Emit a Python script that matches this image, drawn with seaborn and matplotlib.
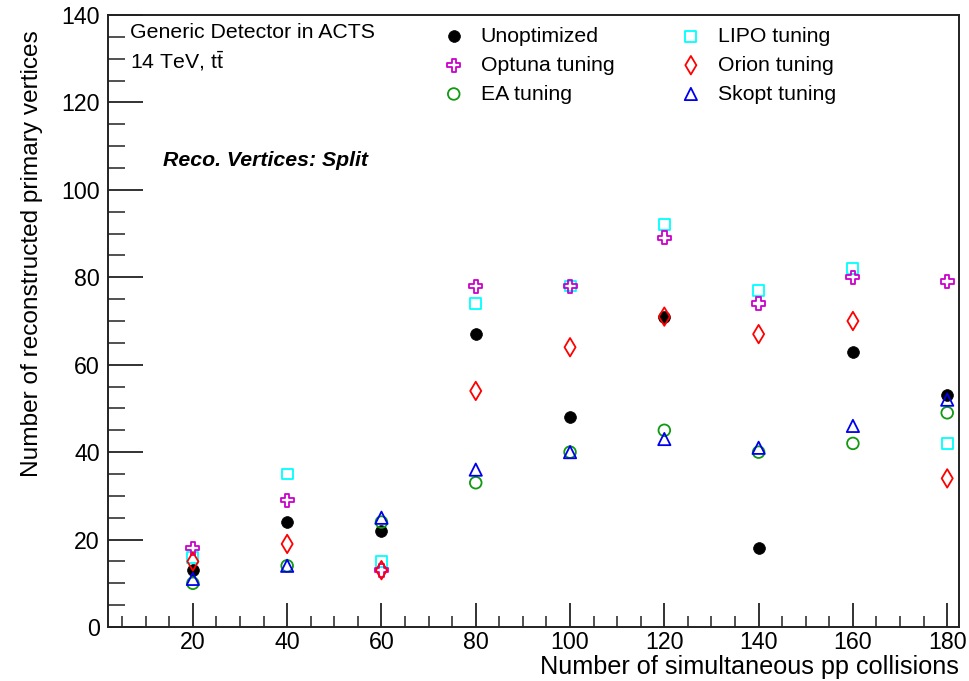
import matplotlib
matplotlib.use("Agg")
import matplotlib.pyplot as plt
import seaborn as sns
import pandas as pd

sns.set_style("white")
plt.rcParams['font.family'] = ['Liberation Sans', 'DejaVu Sans']
plt.rcParams['mathtext.fontset'] = 'custom'
plt.rcParams['mathtext.rm'] = 'Liberation Sans'
plt.rcParams['mathtext.it'] = 'Liberation Sans:italic'
for k in ['text.color', 'axes.labelcolor', 'xtick.color', 'ytick.color']:
    plt.rcParams[k] = 'black'

pileup = [20, 40, 60, 80, 100, 120, 140, 160, 180]
unoptimized = [13, 24, 22, 67, 48, 71, 18, 63, 53]
lipo = [16, 35, 15, 74, 78, 92, 77, 82, 42]
optuna = [18, 29, 13, 78, 78, 89, 74, 80, 79]
ea = [10, 14, 24, 33, 40, 45, 40, 42, 49]
skopt = [11, 14, 25, 36, 40, 43, 41, 46, 52]
orion = [15, 19, 13, 54, 64, 71, 67, 70, 34]

series = [
    ("Unoptimized", unoptimized, "o", "black", True, 72),
    ("LIPO tuning", lipo, "s", "#00ffff", False, 62),
    ("Optuna tuning", optuna, "P", "#cc00cc", False, 88),
    ("EA tuning", ea, "o", "#119911", False, 70),
    ("Skopt tuning", skopt, "^", "#0000ee", False, 78),
    ("Orion tuning", orion, "d", "#ff0000", False, 88),
]

fig = plt.figure(figsize=(9.69, 6.81), dpi=100)
ax = fig.add_axes([108/969, 1-627/681, (959-108)/969, (627-15)/681])

for name, vals, mk, col, filled, size in series:
    df = pd.DataFrame({"x": pileup, "y": vals})
    if filled:
        sns.scatterplot(data=df, x="x", y="y", marker=mk, color=col, s=size,
                        edgecolor=col, linewidth=0.5, ax=ax, label=name)
    else:
        sns.scatterplot(data=df, x="x", y="y", marker=mk, s=size,
                        facecolors="none", edgecolor=col, linewidth=1.3,
                        ax=ax, label=name)

ax.set_xlim(2, 182.5)
ax.set_ylim(0, 140)
ax.set_xticks(pileup)
ax.set_xticks(range(5, 181, 5), minor=True)
ax.set_yticks(range(0, 141, 20))
ax.set_yticks(range(0, 141, 5), minor=True)
ax.tick_params(axis='both', which='both', direction='in', labelsize=16.7,
               bottom=True, left=True, top=False, right=False, color='#222222')
ax.tick_params(axis='x', which='major', length=17, width=1.3, pad=3)
ax.tick_params(axis='x', which='minor', length=8, width=1.1)
ax.tick_params(axis='y', which='major', length=25, width=1.3, pad=6)
ax.tick_params(axis='y', which='minor', length=12, width=1.1)
for sp in ax.spines.values():
    sp.set_color('#222222')
    sp.set_linewidth(1.4)

ax.set_xlabel("Number of simultaneous pp collisions", fontsize=18.2)
ax.set_ylabel("Number of reconstructed primary vertices", fontsize=17.6)
ax.xaxis.set_label_coords(1.0, -0.045)
ax.xaxis.label.set_horizontalalignment('right')
ax.yaxis.set_label_coords(-0.089, 1.0)
ax.yaxis.label.set_verticalalignment('center')
ax.yaxis.label.set_horizontalalignment('right')
ax.yaxis.label.set_y(0.975)

fig.text(130/969, 1-32/681, "Generic Detector in ACTS", fontsize=15.3, va='center', ha='left')
fig.text(130/969, 1-61/681, r"14 TeV, t$\mathrm{\bar{t}}$", fontsize=15.3, va='center', ha='left')
fig.text(163/969, 1-160/681, "Reco. Vertices: Split", fontsize=15.3, fontweight='bold',
         fontstyle='italic', va='center', ha='left')

h, l = ax.get_legend_handles_labels()
order = ["Unoptimized", "Optuna tuning", "EA tuning", "LIPO tuning", "Orion tuning", "Skopt tuning"]
hd = dict(zip(l, h))
leg = ax.legend([hd[o] for o in order], order, ncol=2, loc='upper left',
                bbox_to_anchor=(441/969, 1-27/681), bbox_transform=fig.transFigure,
                frameon=False, fontsize=15.3, handletextpad=0.67, columnspacing=3.0,
                labelspacing=0.46, borderaxespad=0, borderpad=0, handlelength=1.2)

fig.savefig("out.png", dpi=100)
